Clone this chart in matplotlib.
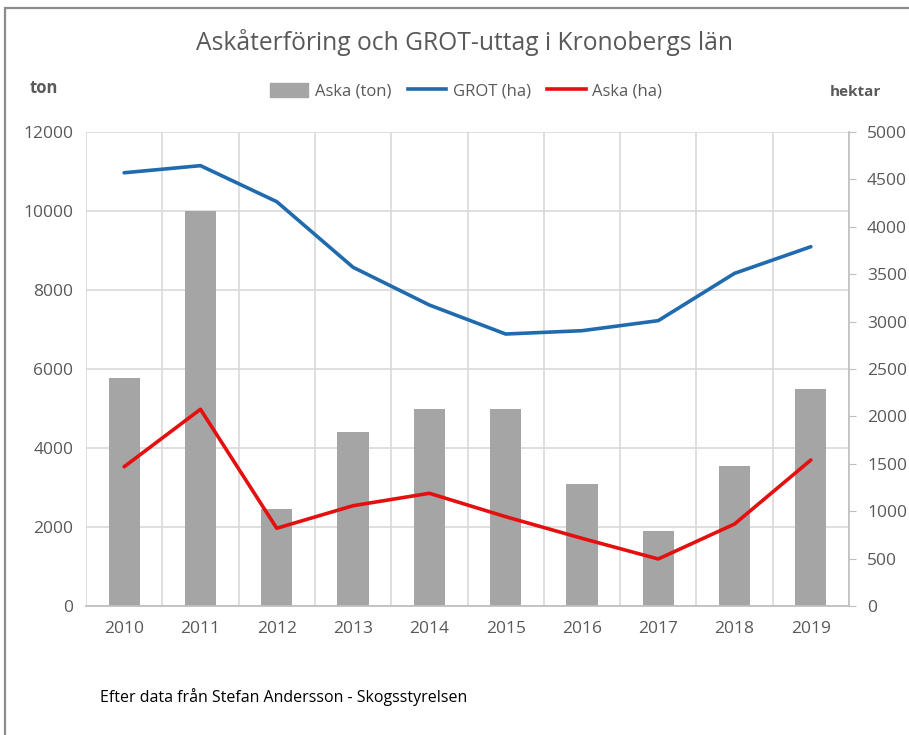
import numpy as np
import matplotlib
matplotlib.use('Agg')
import matplotlib.pyplot as plt
from matplotlib.patches import Rectangle, Patch
from matplotlib.lines import Line2D

years = ['2010', '2011', '2012', '2013', '2014', '2015', '2016', '2017', '2018', '2019']
aska_ton = [5780, 10000, 2450, 4400, 5000, 5000, 3100, 1900, 3550, 5500]
grot_ha = [4570, 4645, 4265, 3573, 3175, 2869, 2904, 3010, 3509, 3790]
aska_ha = [1469, 2075, 820, 1058, 1189, 942, 714, 496, 865, 1540]

GRAY_TXT = '#595959'
plt.rcParams['font.family'] = ['Open Sans', 'DejaVu Sans']

fig = plt.figure(figsize=(9.09, 7.35), dpi=100)
ax = fig.add_axes([86 / 909, 1 - 606 / 735, 763 / 909, 474 / 735])
ax2 = ax.twinx()

x = np.arange(len(years))
ax.bar(x, aska_ton, width=0.41, color='#A5A5A5', zorder=2)
ax2.plot(x, grot_ha, color='#1F6BAE', linewidth=2.6, solid_capstyle='round')
ax2.plot(x, aska_ha, color='#E41010', linewidth=2.6, solid_capstyle='round')

ax.set_xlim(-0.5, len(years) - 0.5)
ax.set_ylim(0, 12000)
ax.set_yticks(np.arange(0, 12001, 2000))
ax.set_xticks(x)
ax.set_xticklabels(years)
ax.set_xticks(np.arange(-0.5, len(years), 1), minor=True)
ax.set_axisbelow(True)
ax.grid(True, axis='y', which='major', color='#D9D9D9', linewidth=1.2)
ax.grid(True, axis='x', which='minor', color='#D9D9D9', linewidth=1.2)
ax.tick_params(axis='both', which='both', length=0, labelsize=12.5, labelcolor=GRAY_TXT)
ax.tick_params(axis='x', pad=11)
ax.tick_params(axis='y', pad=9)
for s in ['top', 'left', 'right']:
    ax.spines[s].set_visible(False)
ax.spines['bottom'].set_color('#BFBFBF')
ax.spines['bottom'].set_linewidth(1.3)

ax2.set_ylim(0, 5000)
ax2.set_yticks(np.arange(0, 5001, 500))
ax2.tick_params(axis='y', length=5, color='#BFBFBF', labelsize=12.5, labelcolor=GRAY_TXT, pad=8)
for s in ['top', 'left', 'bottom']:
    ax2.spines[s].set_visible(False)
ax2.spines['right'].set_color('#BFBFBF')
ax2.spines['right'].set_linewidth(1.2)

fig.text(464 / 909, 1 - 43 / 735, 'Askåterföring och GROT-uttag i Kronobergs län',
         ha='center', va='center', fontsize=17.7, color=GRAY_TXT)
fig.text(30 / 909, 1 - 88 / 735, 'ton', ha='left', va='center', fontsize=12,
         fontweight='bold', color=GRAY_TXT)
fig.text(830 / 909, 1 - 92 / 735, 'hektar', ha='left', va='center', fontsize=11,
         fontweight='bold', color=GRAY_TXT)
fig.text(100 / 909, 1 - 697 / 735, 'Efter data från Stefan Andersson - Skogsstyrelsen',
         ha='left', va='center', fontsize=11.5, color='black')

handles = [Patch(color='#A5A5A5'),
           Line2D([0], [0], color='#1F6BAE', linewidth=2.6),
           Line2D([0], [0], color='#E41010', linewidth=2.6)]
fig.legend(handles, ['Aska (ton)', 'GROT (ha)', 'Aska (ha)'], ncol=3,
           loc='center', bbox_to_anchor=(466 / 909, 1 - 91 / 735), frameon=False,
           fontsize=12, labelcolor=GRAY_TXT, handlelength=2.3, handleheight=0.9,
           handletextpad=0.4, columnspacing=1.0)

# frame around chart (cut off at right and bottom)
fig.patches.append(Rectangle((5 / 909, -0.1), 1.2, 1 - 8 / 735 + 0.1, transform=fig.transFigure,
                             fill=False, edgecolor='#8C8C8C', linewidth=1.6))

fig.savefig('out.png', dpi=100)
